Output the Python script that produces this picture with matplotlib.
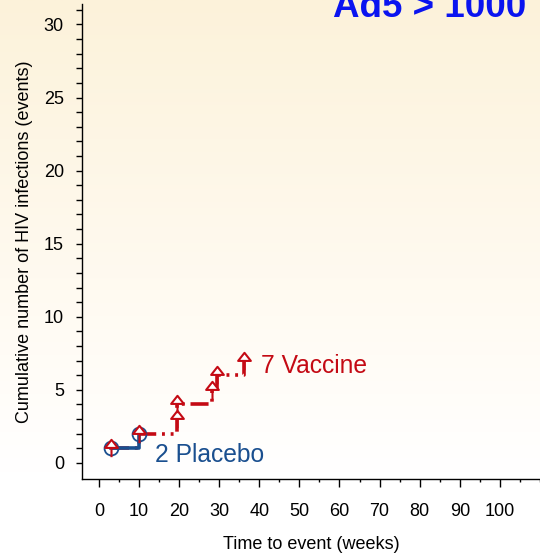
import numpy as np
import matplotlib
matplotlib.use('Agg')
import matplotlib.pyplot as plt
from matplotlib.path import Path
from matplotlib.colors import LinearSegmentedColormap

plt.rcParams['font.family'] = ['Liberation Sans', 'DejaVu Sans']

# event times (weeks) and cumulative counts
placebo_weeks = [3, 10]
placebo_counts = [1, 2]
vaccine_weeks = [3, 10, 19.5, 19.5, 28.3, 29.5, 36.3]
vaccine_counts = [1, 2, 3, 4, 5, 6, 7]

title = 'Ad5 > 1000'
placebo_label = '2 Placebo'
vaccine_label = '7 Vaccine'

blue = '#1a4f8f'
red = '#c40a14'

# hollow up-arrow marker: triangular head plus a short stem
arrow = Path(
    [(-0.55, 0.05), (0.0, 0.75), (0.55, 0.05), (-0.55, 0.05),
     (0.0, 0.05), (0.0, -0.75)],
    [Path.MOVETO, Path.LINETO, Path.LINETO, Path.CLOSEPOLY,
     Path.MOVETO, Path.LINETO])

fig = plt.figure(figsize=(5.4, 5.55), dpi=100)

# cream-to-white background
bg = fig.add_axes((0, 0, 1, 1), zorder=-10)
bg.axis('off')
cmap = LinearSegmentedColormap.from_list(
    'bg', [(0.0, '#fcf2da'), (0.5, '#fffaf0'), (0.85, '#ffffff'), (1.0, '#ffffff')])
grad = np.linspace(0, 1, 256).reshape(-1, 1)
bg.imshow(grad, cmap=cmap, aspect='auto', extent=(0, 1, 0, 1), origin='upper')
bg.set_xlim(0, 1)
bg.set_ylim(0, 1)

ax = fig.add_axes((82 / 540, 1 - 479 / 555, 1 - 82 / 540, (479 - 4) / 555))
ax.patch.set_alpha(0)
ax.set_xlim(-4.2, 110)
ax.set_ylim(-1.1, 31.4)

for s in ['top', 'right']:
    ax.spines[s].set_visible(False)
for s in ['left', 'bottom']:
    ax.spines[s].set_linewidth(1.0)

ax.set_xticks(np.arange(0, 101, 10))
ax.set_xticks(np.arange(0, 111, 5), minor=True)
ax.set_yticks(np.arange(0, 31, 5))
ax.set_yticks(np.arange(0, 32, 1), minor=True)
ax.tick_params(axis='both', which='major', direction='out', labelsize=13, width=1)
ax.tick_params(axis='x', which='major', length=5.5, pad=11.5)
ax.tick_params(axis='x', which='minor', length=2.5, width=1)
ax.tick_params(axis='y', which='major', length=4, pad=9)
ax.tick_params(axis='y', which='minor', length=4, width=1)

ax.set_xlabel('Time to event (weeks)', fontsize=13, labelpad=12)
ax.set_ylabel('Cumulative number of HIV infections (events)', fontsize=13, labelpad=8)

# vaccine step curve
ax.step(vaccine_weeks, vaccine_counts, where='post', color=red, lw=2.6,
        dashes=(5, 1.6, 0.8, 1.6, 0.8, 1.6), zorder=3)

# placebo step curve
ax.step(placebo_weeks, placebo_counts, where='post', color=blue, lw=2.6, zorder=4)
ax.plot(placebo_weeks, placebo_counts, ls='none', marker='o', ms=10,
        mfc='none', mec=blue, mew=1.3, zorder=5)

ax.plot(vaccine_weeks, vaccine_counts, ls='none', marker=arrow, ms=12.5,
        mfc='white', mec=red, mew=1.5, zorder=6)

ax.text(40.5, vaccine_counts[-1] - 0.35, vaccine_label, color=red, fontsize=17.7,
        va='center', ha='left')
ax.text(14, placebo_counts[-1] - 1.45, placebo_label, color=blue, fontsize=17.7,
        va='center', ha='left')

fig.text(430 / 540, 1 - 17 / 555, title, color='#0a14f0', fontsize=26.5,
         fontweight='bold', ha='center', va='baseline')

fig.savefig('out.png', dpi=100)
